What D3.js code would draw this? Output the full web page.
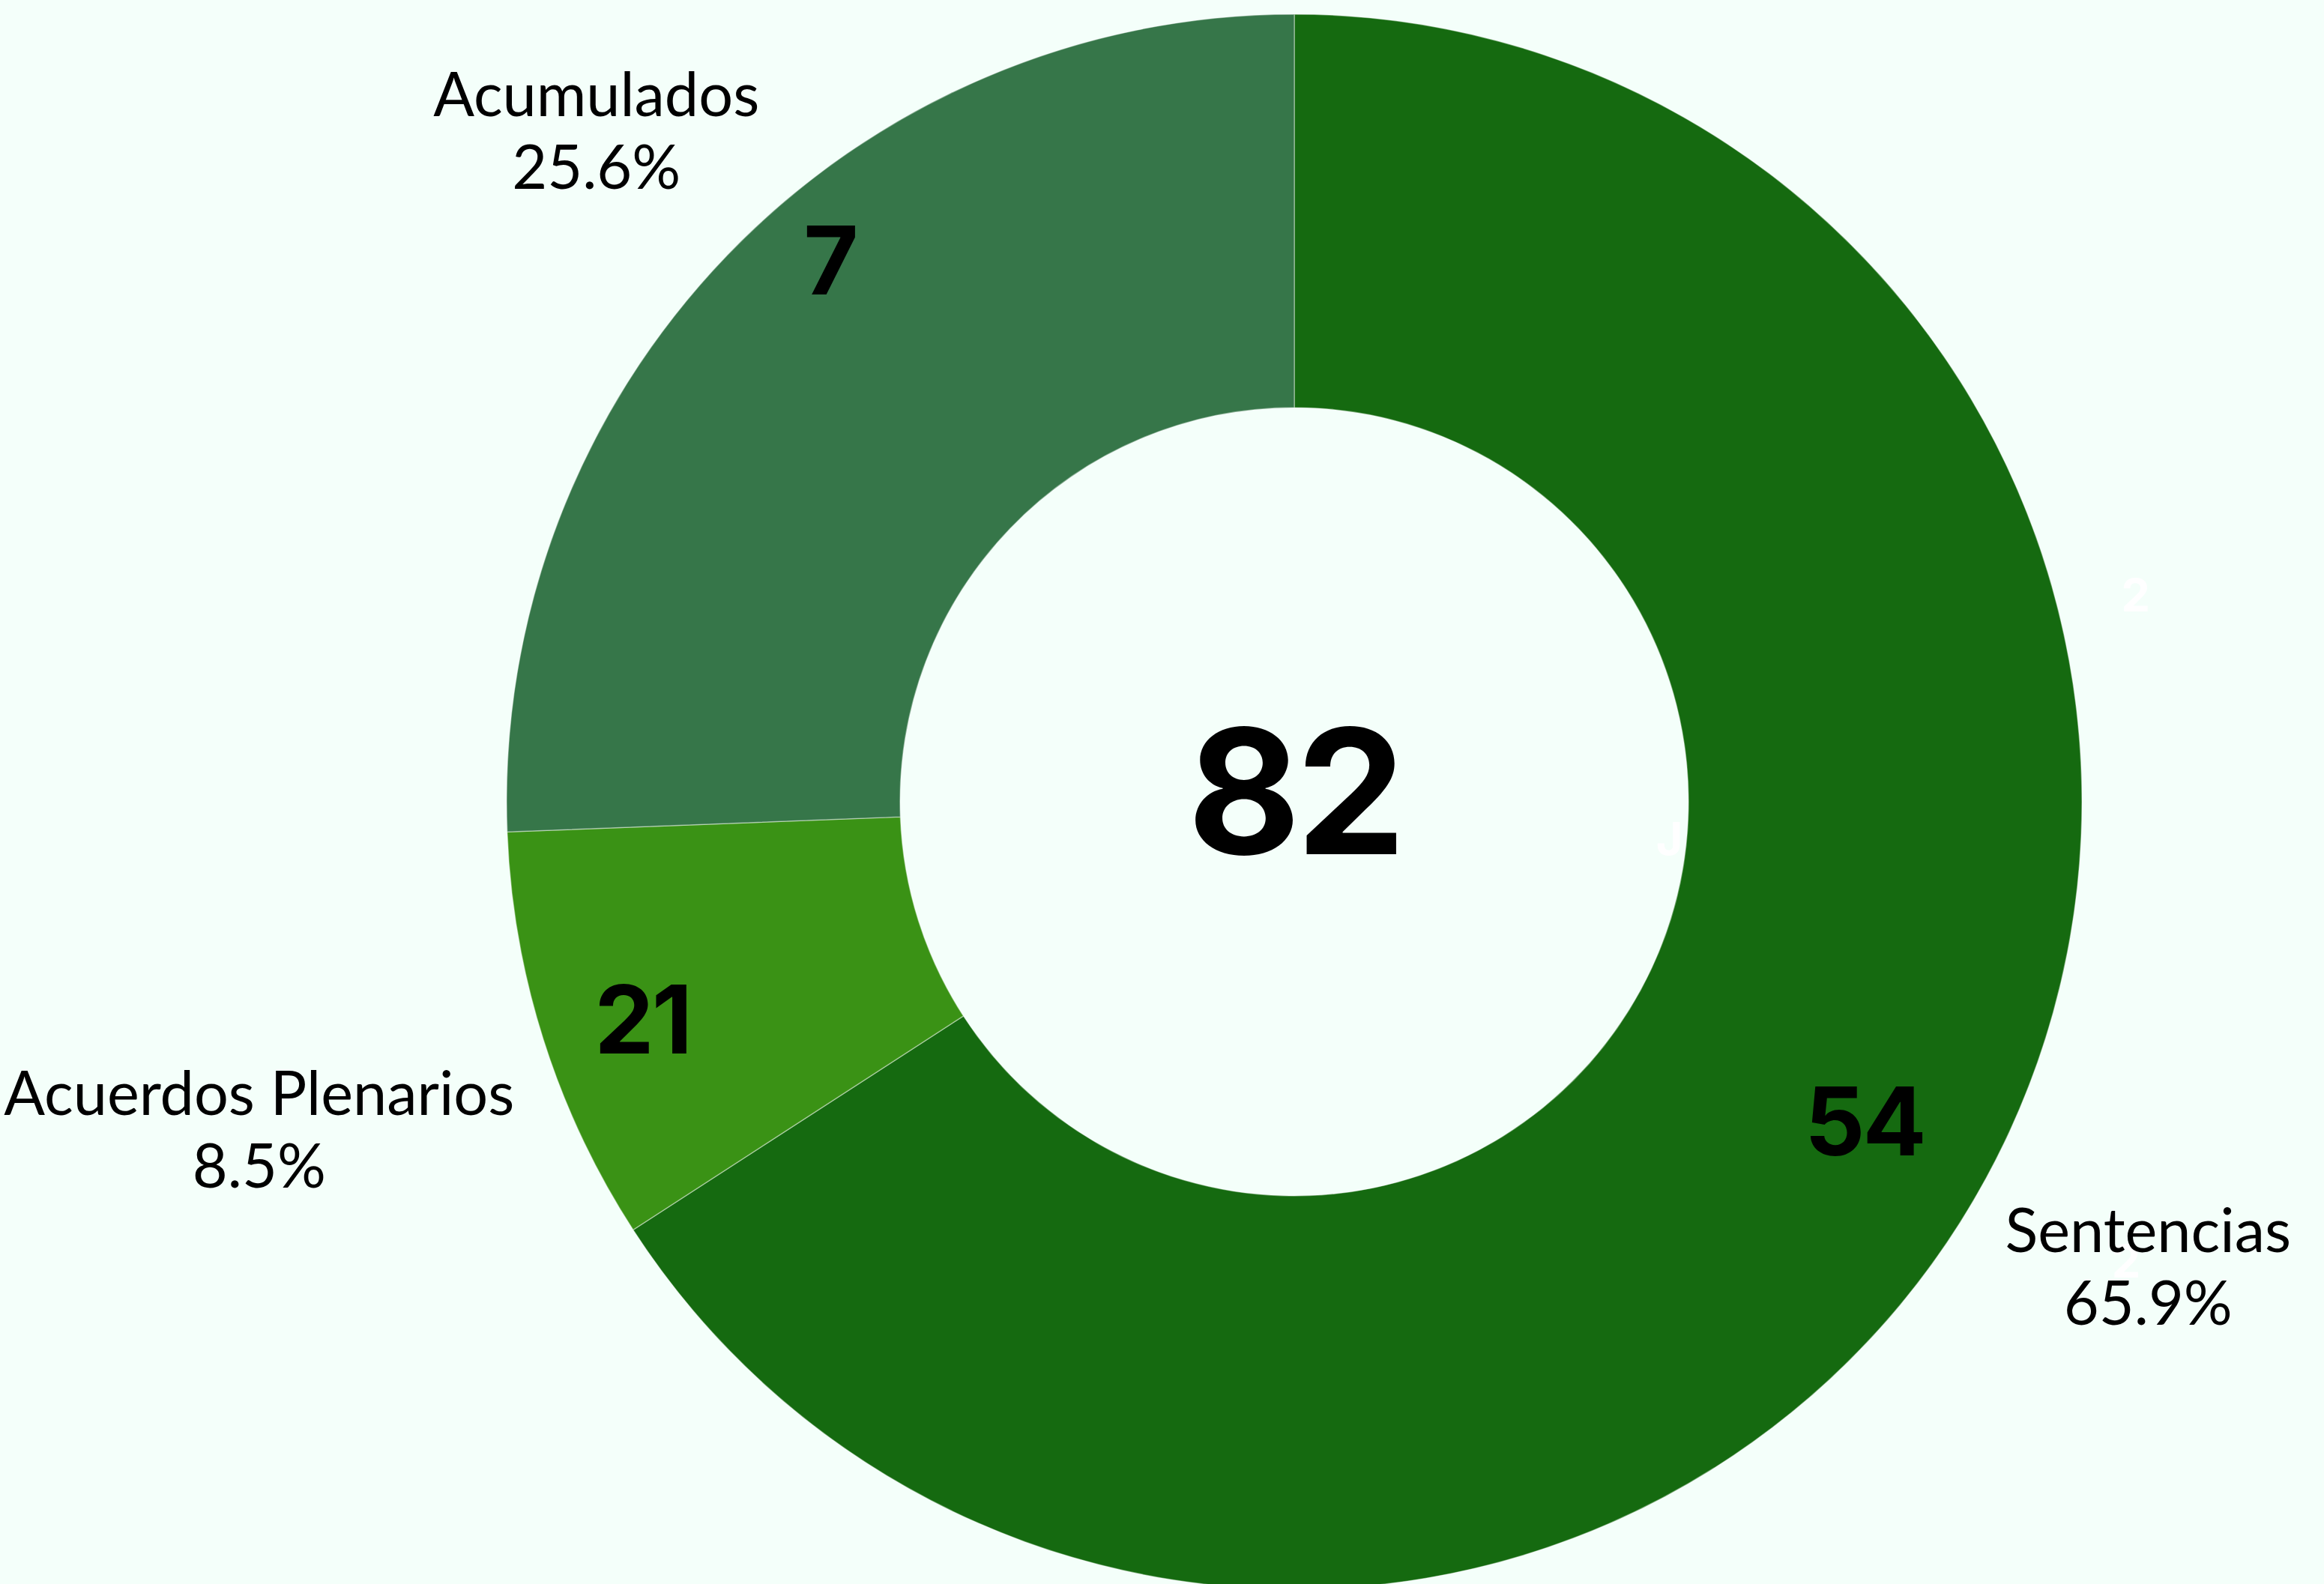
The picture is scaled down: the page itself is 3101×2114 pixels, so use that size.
<!DOCTYPE html>
<html>
<head>
<meta charset="utf-8">
<script src="https://cdn.jsdelivr.net/npm/d3@7"></script>
<style>
  html, body { margin: 0; padding: 0; background: #f4fffa; overflow: hidden; }
  svg { display: block; }
</style>
</head>
<body>
<svg id="chart" width="3101" height="2114"></svg>
<script>
// ---- data ----
const categories = ["Sentencias", "Acuerdos Plenarios", "Acumulados"];
const values = [54, 7, 21];
const sliceNumberLabels = ["54", "21", "7"];   // numbers printed on the slices, as shown
const totalLabel = "82";
const colors = ["#156a10", "#3a9215", "#367649"];
const ghostLabels = ["2", "J", "2"];           // faint white labels visible in the picture
// ---- layout ----
const W = 3101, H = 2114;
const cx = 1727, cy = 1070;
const rOuter = 1051, rInner = 526;
const numberPolar = [{r: 872, da: 0.7}, {r: 917, da: -0.9}, {r: 952, da: 5.5}];
const ghostPolar = [{a: 76.2, r: 1156}, {a: 95.6, r: 503}, {a: 118.9, r: 1268}];
const numFont = "Inter, 'Liberation Sans', Arial, sans-serif";

const svg = d3.select("#chart");
svg.append("rect").attr("width", W).attr("height", H).attr("fill", "#f4fffa");
const g = svg.append("g").attr("transform", `translate(${cx},${cy})`);

const total = d3.sum(values);
const pie = d3.pie().sort(null).value(d => d.v);
const data = pie(categories.map((c, i) => ({c, v: values[i], i})));
const arc = d3.arc().innerRadius(rInner).outerRadius(rOuter);

g.selectAll("path.slice").data(data).join("path")
  .attr("class", "slice")
  .attr("d", arc)
  .attr("fill", d => colors[d.data.i])
  .attr("stroke", "rgba(255,255,255,0.4)")
  .attr("stroke-width", 1.5);

const deg = Math.PI / 180;
function polar(angle, r) { return [Math.sin(angle) * r, -Math.cos(angle) * r]; }

// numbers on slices
g.selectAll("text.num").data(data).join("text")
  .attr("class", "num")
  .each(function(d) {
    const p = numberPolar[d.data.i];
    const a = (d.startAngle + d.endAngle) / 2 + p.da * deg;
    const [x, y] = polar(a, p.r);
    d3.select(this).attr("x", x).attr("y", y + 46);
  })
  .attr("text-anchor", "middle")
  .attr("font-family", numFont)
  .attr("font-weight", 700)
  .attr("font-size", 126)
  .attr("letter-spacing", -3)
  .attr("fill", "#000")
  .text(d => sliceNumberLabels[d.data.i]);

// ghost labels
g.selectAll("text.ghost").data(ghostLabels).join("text")
  .attr("class", "ghost")
  .each(function(t, i) {
    const [x, y] = polar(ghostPolar[i].a * deg, ghostPolar[i].r);
    d3.select(this).attr("x", x).attr("y", y + 22);
  })
  .attr("text-anchor", "middle")
  .attr("font-family", numFont)
  .attr("font-weight", 700)
  .attr("font-size", 61)
  .attr("fill", "#ffffff")
  .text(t => t);

// outer category labels
const fmt = d3.format(".1f");
const labelBase = 1115;
data.forEach(d => {
  const lg = g.append("g");
  const t1 = lg.append("text").attr("text-anchor", "middle")
    .attr("font-family", "Lato, 'Noto Sans', sans-serif").attr("font-weight", 400)
    .attr("font-size", 81).attr("fill", "#000").attr("y", -19)
    .text(d.data.c);
  const t2 = lg.append("text").attr("text-anchor", "middle")
    .attr("font-family", "Lato, 'Noto Sans', sans-serif").attr("font-weight", 400)
    .attr("font-size", 81).attr("fill", "#000").attr("y", 78)
    .text(fmt(d.data.v / total * 100) + "%");
  const hw = Math.max(t1.node().getComputedTextLength(), t2.node().getComputedTextLength()) / 2;
  const a = (d.startAngle + d.endAngle) / 2;
  const r = labelBase + hw * Math.abs(Math.sin(a)) + 30 * Math.abs(Math.cos(a));
  const [x, y] = polar(a, r);
  lg.attr("transform", `translate(${x},${y})`);
});

// center total
g.append("text")
  .attr("text-anchor", "middle")
  .attr("y", 70)
  .attr("font-family", numFont)
  .attr("font-weight", 700)
  .attr("font-size", 232)
  .attr("letter-spacing", -6)
  .attr("fill", "#000")
  .text(totalLabel);
</script>
</body>
</html>
